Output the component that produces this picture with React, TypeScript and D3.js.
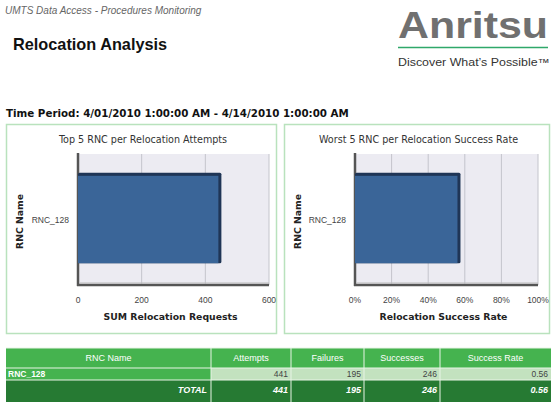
import React, { useEffect, useRef } from 'react';
import * as d3 from 'd3';

// chart data
const rncNames = ['RNC_128'];
const attempts = [441];
const failures = [195];
const successes = [246];
const successRate = [0.56];

const attemptTicks = [0, 200, 400, 600];
const rateTicks = [0, 0.2, 0.4, 0.6, 0.8, 1];

const tableHeaders = ['RNC Name', 'Attempts', 'Failures', 'Successes', 'Success Rate'];

const W = 551;
const H = 402;
const FONT = '"Liberation Sans", Arial, sans-serif';
const WIDE = '"DejaVu Sans", Verdana, sans-serif';

const App: React.FC = () => {
  const svgRef = useRef<SVGSVGElement>(null);

  useEffect(() => {
    if (!svgRef.current) return;
    const svg = d3.select(svgRef.current);
    svg.selectAll('*').remove();

    svg.append('rect').attr('width', W).attr('height', H).attr('fill', '#fff');

    // Header
    svg.append('text')
      .attr('x', 5).attr('y', 14)
      .attr('font-family', FONT).attr('font-size', 10).attr('font-style', 'italic')
      .attr('fill', '#666')
      .text('UMTS Data Access - Procedures Monitoring');

    svg.append('text')
      .attr('x', 13).attr('y', 50)
      .attr('font-family', FONT).attr('font-size', 16.3).attr('font-weight', 'bold')
      .attr('fill', '#111')
      .text('Relocation Analysis');

    svg.append('text')
      .attr('x', 6).attr('y', 117)
      .attr('font-family', WIDE).attr('font-size', 10.3).attr('font-weight', 'bold')
      .attr('fill', '#111')
      .text('Time Period: 4/01/2010 1:00:00 AM - 4/14/2010 1:00:00 AM');

    // Logo
    svg.append('text')
      .attr('x', 548).attr('y', 38).attr('text-anchor', 'end')
      .attr('font-family', FONT).attr('font-size', 36).attr('font-weight', 'bold')
      .attr('fill', '#707070').attr('textLength', 150).attr('lengthAdjust', 'spacingAndGlyphs')
      .text('Anritsu');
    svg.append('line')
      .attr('x1', 398).attr('x2', 548).attr('y1', 47.5).attr('y2', 47.5)
      .attr('stroke', '#2fa86a').attr('stroke-width', 1.5);
    svg.append('text')
      .attr('x', 398).attr('y', 66)
      .attr('font-family', FONT).attr('font-size', 10.5)
      .attr('fill', '#333').attr('textLength', 152).attr('lengthAdjust', 'spacingAndGlyphs')
      .text('Discover What\u2019s Possible\u2122');

    // Chart panels
    type Panel = {
      box: [number, number, number, number];
      title: string;
      xTitle: string;
      values: number[];
      domain: [number, number];
      ticks: number[];
      fmt: (d: number) => string;
      range: [number, number];
    };

    const panels: Panel[] = [
      {
        box: [6, 124, 270, 209],
        title: 'Top 5 RNC per Relocation Attempts',
        xTitle: 'SUM Relocation Requests',
        values: attempts,
        domain: [0, 600],
        ticks: attemptTicks,
        fmt: d3.format('d'),
        range: [78, 269],
      },
      {
        box: [284, 124, 265, 209],
        title: 'Worst 5 RNC per Relocation Success Rate',
        xTitle: 'Relocation Success Rate',
        values: successRate,
        domain: [0, 1],
        ticks: rateTicks,
        fmt: d3.format('.0%'),
        range: [355, 538],
      },
    ];

    const plotTop = 154;
    const plotBottom = 285;
    const depth = 3;

    panels.forEach(p => {
      const [bx, by, bw, bh] = p.box;
      const g = svg.append('g');
      g.append('rect')
        .attr('x', bx + 0.5).attr('y', by + 0.5).attr('width', bw).attr('height', bh)
        .attr('fill', '#fff').attr('stroke', '#b9e2bd').attr('stroke-width', 1.5);

      g.append('text')
        .attr('x', bx + bw / 2 + 2).attr('y', by + 19).attr('text-anchor', 'middle')
        .attr('font-family', WIDE).attr('font-size', 9.6).attr('fill', '#333')
        .text(p.title);

      const x = d3.scaleLinear().domain(p.domain).range(p.range);
      const y = d3.scaleBand().domain(rncNames).range([plotTop, plotBottom]).paddingInner(0.2).paddingOuter(0.2);

      // plot background
      g.append('rect')
        .attr('x', p.range[0]).attr('y', plotTop)
        .attr('width', p.range[1] - p.range[0]).attr('height', plotBottom - plotTop)
        .attr('fill', '#ecebf2');

      // gridlines
      g.append('g')
        .selectAll('line')
        .data(p.ticks.slice(1))
        .enter()
        .append('line')
        .attr('x1', d => x(d)).attr('x2', d => x(d))
        .attr('y1', plotTop).attr('y2', plotBottom)
        .attr('stroke', '#c4c4cc').attr('stroke-width', 1);

      // 3D axis walls
      g.append('line')
        .attr('x1', p.range[0]).attr('x2', p.range[0])
        .attr('y1', plotTop - 1).attr('y2', plotBottom + 1)
        .attr('stroke', '#555').attr('stroke-width', 2.5);
      g.append('line')
        .attr('x1', p.range[0] - 1).attr('x2', p.range[1])
        .attr('y1', plotBottom).attr('y2', plotBottom)
        .attr('stroke', '#555').attr('stroke-width', 2.5);
      g.append('line')
        .attr('x1', p.range[0] + 2).attr('x2', p.range[1])
        .attr('y1', plotBottom - 2).attr('y2', plotBottom - 2)
        .attr('stroke', '#bbb').attr('stroke-width', 1);

      // bars
      const bars = g.selectAll('.bar')
        .data(rncNames.map((n, i) => ({ name: n, value: p.values[i] })))
        .enter()
        .append('g')
        .attr('class', 'bar');

      bars.append('rect')
        .attr('x', x(0))
        .attr('y', d => (y(d.name) || 0) - depth)
        .attr('width', d => x(d.value) - x(0) + depth)
        .attr('height', y.bandwidth() + depth)
        .attr('rx', 1.5)
        .attr('fill', '#1f3556');
      bars.append('rect')
        .attr('x', x(0))
        .attr('y', d => y(d.name) || 0)
        .attr('width', d => x(d.value) - x(0))
        .attr('height', y.bandwidth())
        .attr('fill', '#3a6598');

      // category labels
      g.append('g')
        .selectAll('text')
        .data(rncNames)
        .enter()
        .append('text')
        .attr('x', p.range[0] - 9)
        .attr('y', d => (y(d) || 0) + y.bandwidth() / 2 + 3)
        .attr('text-anchor', 'end')
        .attr('font-family', FONT).attr('font-size', 8.5).attr('fill', '#444')
        .text(d => d);

      // x tick labels
      g.append('g')
        .selectAll('text')
        .data(p.ticks)
        .enter()
        .append('text')
        .attr('x', d => x(d))
        .attr('y', 303)
        .attr('text-anchor', 'middle')
        .attr('font-family', FONT).attr('font-size', 8.5).attr('fill', '#444')
        .text(d => p.fmt(d));

      // axis titles
      g.append('text')
        .attr('x', (p.range[0] + p.range[1]) / 2 - 3).attr('y', 320)
        .attr('text-anchor', 'middle')
        .attr('font-family', WIDE).attr('font-size', 9.3).attr('font-weight', 'bold').attr('fill', '#222')
        .text(p.xTitle);

      g.append('text')
        .attr('transform', `translate(${bx + 17},${(plotTop + plotBottom) / 2 + 2}) rotate(-90)`)
        .attr('text-anchor', 'middle')
        .attr('font-family', WIDE).attr('font-size', 9.3).attr('font-weight', 'bold').attr('fill', '#222')
        .text('RNC Name');
    });

    // Table
    const colEdges = [6, 211, 291, 364, 440, 551];
    const rowEdges = [348, 368, 380, 402];
    const green = '#45b34f';
    const light = '#c3e2bf';
    const dark = '#267a33';

    const t = svg.append('g');
    // header
    tableHeaders.forEach((h, i) => {
      t.append('rect')
        .attr('x', colEdges[i]).attr('y', rowEdges[0])
        .attr('width', colEdges[i + 1] - colEdges[i]).attr('height', rowEdges[1] - rowEdges[0])
        .attr('fill', green);
      t.append('text')
        .attr('x', (colEdges[i] + colEdges[i + 1]) / 2).attr('y', rowEdges[0] + 13)
        .attr('text-anchor', 'middle')
        .attr('font-family', FONT).attr('font-size', 9).attr('fill', '#fff')
        .text(h);
    });

    const rowVals = (i: number) => [attempts[i], failures[i], successes[i], successRate[i]];
    const fmtVal = (v: number, j: number) => (j === 3 ? v.toFixed(2) : String(v));

    rncNames.forEach((name, i) => {
      const y0 = rowEdges[1];
      const h = rowEdges[2] - rowEdges[1];
      t.append('rect').attr('x', colEdges[0]).attr('y', y0)
        .attr('width', colEdges[1] - colEdges[0]).attr('height', h).attr('fill', green);
      t.append('text').attr('x', colEdges[0] + 2).attr('y', y0 + 9)
        .attr('font-family', FONT).attr('font-size', 8.5).attr('font-weight', 'bold').attr('fill', '#fff')
        .text(name);
      rowVals(i).forEach((v, j) => {
        t.append('rect').attr('x', colEdges[j + 1]).attr('y', y0)
          .attr('width', colEdges[j + 2] - colEdges[j + 1]).attr('height', h).attr('fill', light);
        t.append('text').attr('x', colEdges[j + 2] - 3).attr('y', y0 + 9)
          .attr('text-anchor', 'end')
          .attr('font-family', FONT).attr('font-size', 8.5).attr('fill', '#444')
          .text(fmtVal(v, j));
      });
    });

    // total row
    const totals = [d3.sum(attempts), d3.sum(failures), d3.sum(successes), d3.sum(successes) / d3.sum(attempts)];
    const ty = rowEdges[2];
    const th = rowEdges[3] - rowEdges[2];
    t.append('rect').attr('x', colEdges[0]).attr('y', ty)
      .attr('width', colEdges[5] - colEdges[0]).attr('height', th).attr('fill', dark);
    t.append('text').attr('x', colEdges[1] - 4).attr('y', ty + 13)
      .attr('text-anchor', 'end')
      .attr('font-family', FONT).attr('font-size', 9).attr('font-weight', 'bold').attr('font-style', 'italic')
      .attr('fill', '#fff')
      .text('TOTAL');
    totals.forEach((v, j) => {
      t.append('text').attr('x', colEdges[j + 2] - 3).attr('y', ty + 13)
        .attr('text-anchor', 'end')
        .attr('font-family', FONT).attr('font-size', 9).attr('font-weight', 'bold').attr('font-style', 'italic')
        .attr('fill', '#fff')
        .text(fmtVal(v, j));
    });

    // cell dividers
    t.append('g')
      .selectAll('line')
      .data(colEdges.slice(1, 5))
      .enter()
      .append('line')
      .attr('x1', d => d).attr('x2', d => d)
      .attr('y1', rowEdges[0]).attr('y2', rowEdges[3])
      .attr('stroke', '#e8f4e6').attr('stroke-width', 1);
    t.append('g')
      .selectAll('line')
      .data(rowEdges.slice(0, 3))
      .enter()
      .append('line')
      .attr('x1', colEdges[0]).attr('x2', colEdges[5])
      .attr('y1', d => d).attr('y2', d => d)
      .attr('stroke', '#e8f4e6').attr('stroke-width', 1);
  }, []);

  return (
    <svg
      ref={svgRef}
      width={W}
      height={H}
      style={{ position: 'absolute', left: 0, top: 0, display: 'block' }}
    />
  );
};

export default App;
